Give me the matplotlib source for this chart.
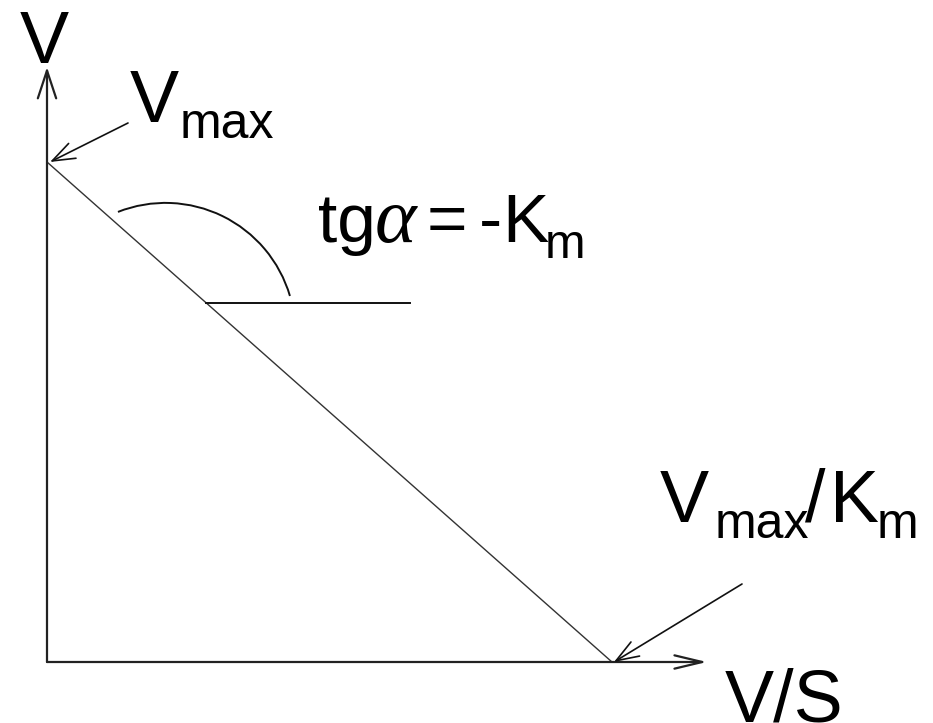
"""
Eadie-Hofstee sketch: V against V/S, straight line with slope -Km.
"""
import matplotlib
matplotlib.use("Agg")
import matplotlib.pyplot as plt
from matplotlib.patches import Arc
import numpy as np

# line parameters (arbitrary units)
VMAX = 5.0
KM = 0.885
X_INTERCEPT = VMAX / KM

# axis arrow lengths
X_AXIS_END = 6.6
Y_AXIS_END = 5.95

# slope-angle marker: reference level, arc centre / radius / angles
ANGLE_LEVEL = 3.59
ANGLE_LINE_END = 3.63
ARC_CENTER = (1.185, 3.294)
ARC_RADIUS = 1.297
ARC_THETA = (16.4, 111.5)

# pointer arrows: (tail, head)
VMAX_ARROW = ((0.81, 5.39), (0.03, VMAX))
XINT_ARROW = ((6.95, 0.78), (X_INTERCEPT + 0.02, 0.0))

SANS = "Liberation Sans"
SERIF = "Liberation Serif"

fig = plt.figure(figsize=(9.33, 7.23), dpi=100)
ax = fig.add_axes([0, 0, 1, 1])
ax.set_xlim(-0.47, 8.86)
ax.set_ylim(-0.61, 6.62)
ax.axis("off")

# axes with open arrowheads
ax.annotate("", xy=(0, Y_AXIS_END), xytext=(0, 0),
            arrowprops=dict(arrowstyle="->,head_length=1.0,head_width=0.33",
                            mutation_scale=20, lw=1.6, color="#222222",
                            shrinkA=0, shrinkB=0))
ax.annotate("", xy=(X_AXIS_END, 0), xytext=(0, 0),
            arrowprops=dict(arrowstyle="->,head_length=1.0,head_width=0.24",
                            mutation_scale=20, lw=1.6, color="#222222",
                            shrinkA=0, shrinkB=0))

# the straight line V = Vmax - Km * (V/S)
xs = np.array([0.0, X_INTERCEPT])
ax.plot(xs, VMAX - KM * xs, color="#333333", lw=1.0, solid_capstyle="butt")

# angle marker
x0 = (VMAX - ANGLE_LEVEL) / KM
ax.plot([x0, ANGLE_LINE_END], [ANGLE_LEVEL, ANGLE_LEVEL], color="#111111", lw=1.4)
ax.add_patch(Arc(ARC_CENTER, 2 * ARC_RADIUS, 2 * ARC_RADIUS,
                 theta1=ARC_THETA[0], theta2=ARC_THETA[1],
                 color="#111111", lw=1.4))

# pointer arrows
for tail, head in (VMAX_ARROW, XINT_ARROW):
    ax.annotate("", xy=head, xytext=tail,
                arrowprops=dict(arrowstyle="->,head_length=0.9,head_width=0.33",
                                mutation_scale=18, lw=1.2, color="#111111",
                                shrinkA=0, shrinkB=0))

big, small = 53, 36
kw = dict(ha="left", va="baseline", color="black")

# axis titles
ax.text(-0.27, 5.99, "V", fontsize=big, family=SANS, **kw)
ax.text(6.78, -0.59, "V/S", fontsize=big, family=SANS, **kw)

# Vmax
ax.text(0.83, 5.40, "V", fontsize=big, family=SANS, **kw)
ax.text(1.33, 5.24, "max", fontsize=small, family=SANS, **kw)

# tg(alpha) = -Km
ax.text(2.71, 4.20, "tg", fontsize=50, family=SANS, **kw)
ax.text(3.28, 4.20, "α", fontsize=57, family=SERIF, style="italic", **kw)
ax.text(3.80, 4.20, "=", fontsize=50, family=SANS, **kw)
ax.text(4.32, 4.20, "-", fontsize=50, family=SANS, **kw)
ax.text(4.55, 4.20, "K", fontsize=50, family=SANS, **kw)
ax.text(4.98, 4.04, "m", fontsize=35, family=SANS, **kw)

# Vmax/Km
ax.text(6.13, 1.40, "V", fontsize=big, family=SANS, **kw)
ax.text(6.68, 1.24, "max", fontsize=small, family=SANS, **kw)
ax.text(7.58, 1.40, "/", fontsize=big, family=SANS, **kw)
ax.text(7.83, 1.40, "K", fontsize=big, family=SANS, **kw)
ax.text(8.30, 1.24, "m", fontsize=small, family=SANS, **kw)

fig.savefig("out.png", dpi=100)
